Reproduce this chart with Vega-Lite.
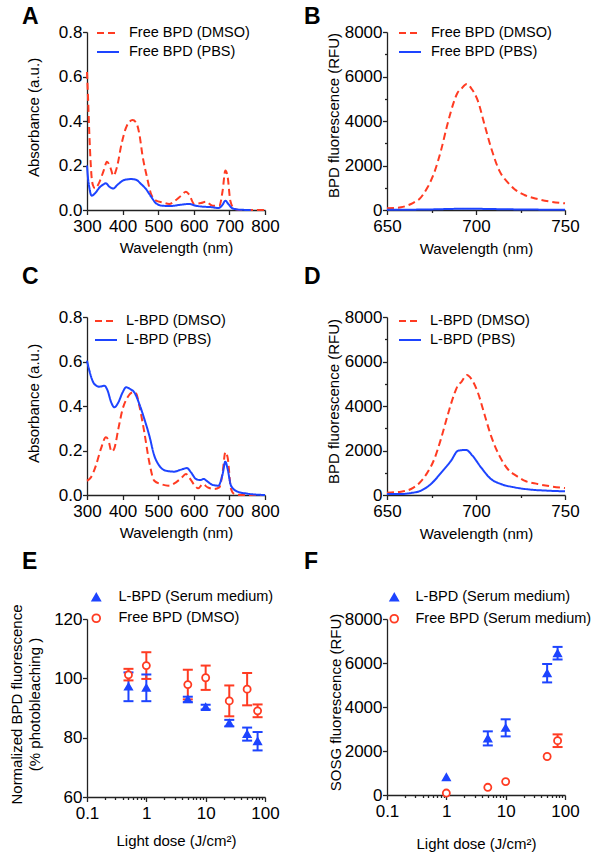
{
"$schema": "https://vega.github.io/schema/vega-lite/v6.json",
"background": "white",
"padding": {"left": 8, "top": 6, "right": 5, "bottom": 5},
"columns": 2,
"align": "each",
"bounds": "full",
"spacing": {"row": 10, "column": 24},
"resolve": {"scale": {"color": "independent", "strokeDash": "independent", "shape": "independent", "stroke": "independent", "fill": "independent"}, "legend": {"color": "independent", "strokeDash": "independent", "shape": "independent", "stroke": "independent", "fill": "independent"}},
"datasets": {
"A": [
{"w":300,"v":0.62,"s":"Free BPD (DMSO)"},{"w":303,"v":0.5,"s":"Free BPD (DMSO)"},{"w":306.6,"v":0.34,"s":"Free BPD (DMSO)"},{"w":310,"v":0.22,"s":"Free BPD (DMSO)"},{"w":313,"v":0.147,"s":"Free BPD (DMSO)"},{"w":317,"v":0.11,"s":"Free BPD (DMSO)"},{"w":322.5,"v":0.097,"s":"Free BPD (DMSO)"},{"w":328,"v":0.105,"s":"Free BPD (DMSO)"},{"w":334.6,"v":0.124,"s":"Free BPD (DMSO)"},{"w":346.8,"v":0.177,"s":"Free BPD (DMSO)"},{"w":356,"v":0.217,"s":"Free BPD (DMSO)"},{"w":365.5,"v":0.192,"s":"Free BPD (DMSO)"},{"w":374,"v":0.154,"s":"Free BPD (DMSO)"},{"w":384,"v":0.192,"s":"Free BPD (DMSO)"},{"w":397,"v":0.297,"s":"Free BPD (DMSO)"},{"w":412,"v":0.379,"s":"Free BPD (DMSO)"},{"w":428,"v":0.404,"s":"Free BPD (DMSO)"},{"w":437.6,"v":0.394,"s":"Free BPD (DMSO)"},{"w":447,"v":0.342,"s":"Free BPD (DMSO)"},{"w":456,"v":0.244,"s":"Free BPD (DMSO)"},{"w":468.5,"v":0.147,"s":"Free BPD (DMSO)"},{"w":480,"v":0.072,"s":"Free BPD (DMSO)"},{"w":494,"v":0.042,"s":"Free BPD (DMSO)"},{"w":512.5,"v":0.034,"s":"Free BPD (DMSO)"},{"w":531,"v":0.027,"s":"Free BPD (DMSO)"},{"w":550,"v":0.045,"s":"Free BPD (DMSO)"},{"w":564,"v":0.064,"s":"Free BPD (DMSO)"},{"w":578,"v":0.082,"s":"Free BPD (DMSO)"},{"w":587,"v":0.069,"s":"Free BPD (DMSO)"},{"w":601.5,"v":0.027,"s":"Free BPD (DMSO)"},{"w":620,"v":0.031,"s":"Free BPD (DMSO)"},{"w":634,"v":0.037,"s":"Free BPD (DMSO)"},{"w":653,"v":0.019,"s":"Free BPD (DMSO)"},{"w":671.7,"v":0.019,"s":"Free BPD (DMSO)"},{"w":681,"v":0.087,"s":"Free BPD (DMSO)"},{"w":688.6,"v":0.177,"s":"Free BPD (DMSO)"},{"w":695,"v":0.15,"s":"Free BPD (DMSO)"},{"w":702.6,"v":0.042,"s":"Free BPD (DMSO)"},{"w":714,"v":0.005,"s":"Free BPD (DMSO)"},{"w":732.6,"v":0.0,"s":"Free BPD (DMSO)"},{"w":800,"v":0.0,"s":"Free BPD (DMSO)"},
{"w":300,"v":0.2,"s":"Free BPD (PBS)"},{"w":303,"v":0.14,"s":"Free BPD (PBS)"},{"w":306.6,"v":0.1,"s":"Free BPD (PBS)"},{"w":313,"v":0.064,"s":"Free BPD (PBS)"},{"w":322.5,"v":0.075,"s":"Free BPD (PBS)"},{"w":334.6,"v":0.1,"s":"Free BPD (PBS)"},{"w":345,"v":0.114,"s":"Free BPD (PBS)"},{"w":353,"v":0.12,"s":"Free BPD (PBS)"},{"w":362.7,"v":0.105,"s":"Free BPD (PBS)"},{"w":374,"v":0.097,"s":"Free BPD (PBS)"},{"w":386,"v":0.114,"s":"Free BPD (PBS)"},{"w":405,"v":0.135,"s":"Free BPD (PBS)"},{"w":423.6,"v":0.139,"s":"Free BPD (PBS)"},{"w":437.6,"v":0.136,"s":"Free BPD (PBS)"},{"w":451.7,"v":0.117,"s":"Free BPD (PBS)"},{"w":465.7,"v":0.094,"s":"Free BPD (PBS)"},{"w":480,"v":0.06,"s":"Free BPD (PBS)"},{"w":494,"v":0.03,"s":"Free BPD (PBS)"},{"w":512.5,"v":0.019,"s":"Free BPD (PBS)"},{"w":536,"v":0.018,"s":"Free BPD (PBS)"},{"w":564,"v":0.024,"s":"Free BPD (PBS)"},{"w":587,"v":0.027,"s":"Free BPD (PBS)"},{"w":606,"v":0.019,"s":"Free BPD (PBS)"},{"w":625,"v":0.015,"s":"Free BPD (PBS)"},{"w":648,"v":0.013,"s":"Free BPD (PBS)"},{"w":669,"v":0.009,"s":"Free BPD (PBS)"},{"w":681,"v":0.024,"s":"Free BPD (PBS)"},{"w":688.6,"v":0.042,"s":"Free BPD (PBS)"},{"w":697,"v":0.027,"s":"Free BPD (PBS)"},{"w":709,"v":0.007,"s":"Free BPD (PBS)"},{"w":728,"v":0.0015,"s":"Free BPD (PBS)"},{"w":760,"v":0.0,"s":"Free BPD (PBS)"}
],
"B": [
{"w":650,"v":75,"s":"Free BPD (DMSO)"},{"w":654,"v":95,"s":"Free BPD (DMSO)"},{"w":657.9,"v":120,"s":"Free BPD (DMSO)"},{"w":661,"v":190,"s":"Free BPD (DMSO)"},{"w":663.5,"v":270,"s":"Free BPD (DMSO)"},{"w":666,"v":380,"s":"Free BPD (DMSO)"},{"w":668.2,"v":494,"s":"Free BPD (DMSO)"},{"w":670.5,"v":720,"s":"Free BPD (DMSO)"},{"w":672.8,"v":1019,"s":"Free BPD (DMSO)"},{"w":676.6,"v":1693,"s":"Free BPD (DMSO)"},{"w":680.3,"v":2666,"s":"Free BPD (DMSO)"},{"w":684,"v":3865,"s":"Free BPD (DMSO)"},{"w":687.8,"v":4913,"s":"Free BPD (DMSO)"},{"w":689.5,"v":5250,"s":"Free BPD (DMSO)"},{"w":691.6,"v":5438,"s":"Free BPD (DMSO)"},{"w":694.8,"v":5662,"s":"Free BPD (DMSO)"},{"w":697.6,"v":5438,"s":"Free BPD (DMSO)"},{"w":701,"v":4913,"s":"Free BPD (DMSO)"},{"w":704.7,"v":3865,"s":"Free BPD (DMSO)"},{"w":708.4,"v":2816,"s":"Free BPD (DMSO)"},{"w":713.1,"v":1768,"s":"Free BPD (DMSO)"},{"w":717.8,"v":1243,"s":"Free BPD (DMSO)"},{"w":721.5,"v":944,"s":"Free BPD (DMSO)"},{"w":727.2,"v":674,"s":"Free BPD (DMSO)"},{"w":734.6,"v":494,"s":"Free BPD (DMSO)"},{"w":742,"v":375,"s":"Free BPD (DMSO)"},{"w":750,"v":300,"s":"Free BPD (DMSO)"},
{"w":650,"v":10,"s":"Free BPD (PBS)"},{"w":670,"v":20,"s":"Free BPD (PBS)"},{"w":685,"v":45,"s":"Free BPD (PBS)"},{"w":693,"v":60,"s":"Free BPD (PBS)"},{"w":700,"v":55,"s":"Free BPD (PBS)"},{"w":715,"v":35,"s":"Free BPD (PBS)"},{"w":730,"v":20,"s":"Free BPD (PBS)"},{"w":750,"v":12,"s":"Free BPD (PBS)"}
],
"C": [
{"w":300,"v":0.064,"s":"L-BPD (DMSO)"},{"w":311,"v":0.079,"s":"L-BPD (DMSO)"},{"w":325,"v":0.132,"s":"L-BPD (DMSO)"},{"w":339,"v":0.207,"s":"L-BPD (DMSO)"},{"w":353,"v":0.259,"s":"L-BPD (DMSO)"},{"w":360,"v":0.247,"s":"L-BPD (DMSO)"},{"w":369,"v":0.195,"s":"L-BPD (DMSO)"},{"w":376.8,"v":0.21,"s":"L-BPD (DMSO)"},{"w":388,"v":0.297,"s":"L-BPD (DMSO)"},{"w":400,"v":0.386,"s":"L-BPD (DMSO)"},{"w":414,"v":0.439,"s":"L-BPD (DMSO)"},{"w":428,"v":0.461,"s":"L-BPD (DMSO)"},{"w":437.6,"v":0.458,"s":"L-BPD (DMSO)"},{"w":447,"v":0.401,"s":"L-BPD (DMSO)"},{"w":461,"v":0.282,"s":"L-BPD (DMSO)"},{"w":475,"v":0.147,"s":"L-BPD (DMSO)"},{"w":489,"v":0.064,"s":"L-BPD (DMSO)"},{"w":508,"v":0.049,"s":"L-BPD (DMSO)"},{"w":528.5,"v":0.042,"s":"L-BPD (DMSO)"},{"w":550,"v":0.057,"s":"L-BPD (DMSO)"},{"w":564,"v":0.075,"s":"L-BPD (DMSO)"},{"w":578,"v":0.094,"s":"L-BPD (DMSO)"},{"w":587,"v":0.079,"s":"L-BPD (DMSO)"},{"w":601.5,"v":0.045,"s":"L-BPD (DMSO)"},{"w":612.6,"v":0.03,"s":"L-BPD (DMSO)"},{"w":625,"v":0.049,"s":"L-BPD (DMSO)"},{"w":639,"v":0.034,"s":"L-BPD (DMSO)"},{"w":657.7,"v":0.027,"s":"L-BPD (DMSO)"},{"w":671.7,"v":0.034,"s":"L-BPD (DMSO)"},{"w":681,"v":0.102,"s":"L-BPD (DMSO)"},{"w":688.6,"v":0.192,"s":"L-BPD (DMSO)"},{"w":695,"v":0.169,"s":"L-BPD (DMSO)"},{"w":704.5,"v":0.027,"s":"L-BPD (DMSO)"},{"w":714,"v":0.0045,"s":"L-BPD (DMSO)"},{"w":732.6,"v":0.0,"s":"L-BPD (DMSO)"},{"w":800,"v":0.0,"s":"L-BPD (DMSO)"},
{"w":300,"v":0.604,"s":"L-BPD (PBS)"},{"w":306.6,"v":0.559,"s":"L-BPD (PBS)"},{"w":320.6,"v":0.499,"s":"L-BPD (PBS)"},{"w":334.6,"v":0.487,"s":"L-BPD (PBS)"},{"w":348.7,"v":0.491,"s":"L-BPD (PBS)"},{"w":358,"v":0.469,"s":"L-BPD (PBS)"},{"w":367.4,"v":0.419,"s":"L-BPD (PBS)"},{"w":376.8,"v":0.394,"s":"L-BPD (PBS)"},{"w":388,"v":0.416,"s":"L-BPD (PBS)"},{"w":400,"v":0.461,"s":"L-BPD (PBS)"},{"w":409.5,"v":0.484,"s":"L-BPD (PBS)"},{"w":421.7,"v":0.476,"s":"L-BPD (PBS)"},{"w":433,"v":0.461,"s":"L-BPD (PBS)"},{"w":447,"v":0.409,"s":"L-BPD (PBS)"},{"w":461,"v":0.342,"s":"L-BPD (PBS)"},{"w":475,"v":0.267,"s":"L-BPD (PBS)"},{"w":489,"v":0.177,"s":"L-BPD (PBS)"},{"w":503,"v":0.132,"s":"L-BPD (PBS)"},{"w":522,"v":0.109,"s":"L-BPD (PBS)"},{"w":545,"v":0.105,"s":"L-BPD (PBS)"},{"w":564,"v":0.114,"s":"L-BPD (PBS)"},{"w":581,"v":0.121,"s":"L-BPD (PBS)"},{"w":592,"v":0.102,"s":"L-BPD (PBS)"},{"w":606,"v":0.072,"s":"L-BPD (PBS)"},{"w":618,"v":0.067,"s":"L-BPD (PBS)"},{"w":627.7,"v":0.072,"s":"L-BPD (PBS)"},{"w":639,"v":0.06,"s":"L-BPD (PBS)"},{"w":653,"v":0.045,"s":"L-BPD (PBS)"},{"w":669,"v":0.042,"s":"L-BPD (PBS)"},{"w":681,"v":0.094,"s":"L-BPD (PBS)"},{"w":688.6,"v":0.15,"s":"L-BPD (PBS)"},{"w":695,"v":0.117,"s":"L-BPD (PBS)"},{"w":704.5,"v":0.042,"s":"L-BPD (PBS)"},{"w":723,"v":0.015,"s":"L-BPD (PBS)"},{"w":751,"v":0.006,"s":"L-BPD (PBS)"},{"w":800,"v":0.0,"s":"L-BPD (PBS)"}
],
"D": [
{"w":650,"v":105,"s":"L-BPD (DMSO)"},{"w":657.9,"v":150,"s":"L-BPD (DMSO)"},{"w":663.5,"v":270,"s":"L-BPD (DMSO)"},{"w":668.2,"v":540,"s":"L-BPD (DMSO)"},{"w":672.8,"v":1019,"s":"L-BPD (DMSO)"},{"w":676.6,"v":1618,"s":"L-BPD (DMSO)"},{"w":680.3,"v":2516,"s":"L-BPD (DMSO)"},{"w":684,"v":3565,"s":"L-BPD (DMSO)"},{"w":687.8,"v":4539,"s":"L-BPD (DMSO)"},{"w":690,"v":4950,"s":"L-BPD (DMSO)"},{"w":691.6,"v":5063,"s":"L-BPD (DMSO)"},{"w":694.8,"v":5393,"s":"L-BPD (DMSO)"},{"w":698,"v":5138,"s":"L-BPD (DMSO)"},{"w":701,"v":4614,"s":"L-BPD (DMSO)"},{"w":704.7,"v":3640,"s":"L-BPD (DMSO)"},{"w":708.4,"v":2666,"s":"L-BPD (DMSO)"},{"w":713.1,"v":1768,"s":"L-BPD (DMSO)"},{"w":717.8,"v":1168,"s":"L-BPD (DMSO)"},{"w":722.5,"v":869,"s":"L-BPD (DMSO)"},{"w":727.2,"v":644,"s":"L-BPD (DMSO)"},{"w":734.6,"v":494,"s":"L-BPD (DMSO)"},{"w":742,"v":389,"s":"L-BPD (DMSO)"},{"w":750,"v":315,"s":"L-BPD (DMSO)"},
{"w":650,"v":45,"s":"L-BPD (PBS)"},{"w":658,"v":45,"s":"L-BPD (PBS)"},{"w":663.5,"v":90,"s":"L-BPD (PBS)"},{"w":669,"v":195,"s":"L-BPD (PBS)"},{"w":674.7,"v":494,"s":"L-BPD (PBS)"},{"w":680.3,"v":989,"s":"L-BPD (PBS)"},{"w":686,"v":1543,"s":"L-BPD (PBS)"},{"w":690,"v":1993,"s":"L-BPD (PBS)"},{"w":694.4,"v":2023,"s":"L-BPD (PBS)"},{"w":698,"v":1768,"s":"L-BPD (PBS)"},{"w":702.8,"v":1243,"s":"L-BPD (PBS)"},{"w":708.4,"v":719,"s":"L-BPD (PBS)"},{"w":714,"v":494,"s":"L-BPD (PBS)"},{"w":721.5,"v":345,"s":"L-BPD (PBS)"},{"w":731,"v":240,"s":"L-BPD (PBS)"},{"w":740,"v":195,"s":"L-BPD (PBS)"},{"w":750,"v":165,"s":"L-BPD (PBS)"}
],
"E": [
{"x":0.5,"m":97.2,"lo":92.3,"hi":102.0,"s":"L-BPD (Serum medium)"},
{"x":1,"m":96.8,"lo":92.3,"hi":101.3,"s":"L-BPD (Serum medium)"},
{"x":5,"m":92.9,"lo":92.0,"hi":93.8,"s":"L-BPD (Serum medium)"},
{"x":10,"m":90.3,"lo":89.5,"hi":91.1,"s":"L-BPD (Serum medium)"},
{"x":25,"m":84.9,"lo":83.8,"hi":86.0,"s":"L-BPD (Serum medium)"},
{"x":50,"m":81.2,"lo":79.0,"hi":83.4,"s":"L-BPD (Serum medium)"},
{"x":75,"m":78.8,"lo":75.7,"hi":81.9,"s":"L-BPD (Serum medium)"},
{"x":0.5,"m":101.2,"lo":99.3,"hi":103.2,"s":"Free BPD (DMSO)"},
{"x":1,"m":104.3,"lo":99.8,"hi":108.8,"s":"Free BPD (DMSO)"},
{"x":5,"m":97.9,"lo":92.9,"hi":102.9,"s":"Free BPD (DMSO)"},
{"x":10,"m":100.2,"lo":96.1,"hi":104.3,"s":"Free BPD (DMSO)"},
{"x":25,"m":92.4,"lo":87.2,"hi":97.6,"s":"Free BPD (DMSO)"},
{"x":50,"m":96.35,"lo":90.9,"hi":101.8,"s":"Free BPD (DMSO)"},
{"x":75,"m":89.05,"lo":86.9,"hi":91.2,"s":"Free BPD (DMSO)"}
],
"F": [
{"x":1,"m":810,"lo":null,"hi":null,"s":"L-BPD (Serum medium)"},
{"x":5,"m":2570,"lo":2253,"hi":2893,"s":"L-BPD (Serum medium)"},
{"x":10,"m":3050,"lo":2664,"hi":3441,"s":"L-BPD (Serum medium)"},
{"x":50,"m":5536,"lo":5118,"hi":5955,"s":"L-BPD (Serum medium)"},
{"x":75,"m":6444,"lo":6160,"hi":6732,"s":"L-BPD (Serum medium)"},
{"x":1,"m":90,"lo":null,"hi":null,"s":"Free BPD (Serum medium)"},
{"x":5,"m":350,"lo":null,"hi":null,"s":"Free BPD (Serum medium)"},
{"x":10,"m":610,"lo":null,"hi":null,"s":"Free BPD (Serum medium)"},
{"x":50,"m":1750,"lo":null,"hi":null,"s":"Free BPD (Serum medium)"},
{"x":75,"m":2470,"lo":2180,"hi":2756,"s":"Free BPD (Serum medium)"}
]
},
"concat": [
{
"title": {"text": "A", "dx": -65, "offset": -8},
"width": 178, "height": 178,
"data": {"name": "A"},
"mark": {"type": "line", "strokeWidth": 2, "interpolate": "monotone"},
"encoding": {
"x": {"field": "w", "type": "quantitative", "scale": {"domain": [300, 800], "nice": false, "zero": false}, "axis": {"values": [300,400,500,600,700,800], "format": "d", "title": "Wavelength (nm)", "titleY": 37}},
"y": {"field": "v", "type": "quantitative", "scale": {"domain": [0, 0.8], "nice": false}, "axis": {"values": [0,0.2,0.4,0.6,0.8], "format": ".1f", "title": "Absorbance (a.u.)", "titleX": -54, "titleY": 85}},
"color": {"field": "s", "type": "nominal", "scale": {"domain": ["Free BPD (DMSO)", "Free BPD (PBS)"], "range": ["#ff3b22", "#1d44ff"]}, "legend": {"title": null, "orient": "none", "legendX": 9, "legendY": -11, "symbolType": "stroke", "symbolSize": 484, "symbolStrokeWidth": 2, "labelOffset": 9, "rowPadding": -2}},
"strokeDash": {"field": "s", "type": "nominal", "scale": {"domain": ["Free BPD (DMSO)", "Free BPD (PBS)"], "range": [[7,4],[1,0]]}, "legend": {"title": null, "orient": "none", "legendX": 9, "legendY": -11, "symbolType": "stroke", "symbolSize": 484, "symbolStrokeWidth": 2, "labelOffset": 9, "rowPadding": -2}}
}
},
{
"title": {"text": "B", "dx": -83, "offset": -8},
"width": 178, "height": 178,
"data": {"name": "B"},
"mark": {"type": "line", "strokeWidth": 2, "interpolate": "monotone"},
"encoding": {
"x": {"field": "w", "type": "quantitative", "scale": {"domain": [650, 750], "nice": false, "zero": false}, "axis": {"values": [650,675,700,725,750], "format": "d", "labelExpr": "datum.value % 50 == 0 ? datum.label : ''", "tickSize": {"condition": {"test": "datum.value % 50 == 0", "value": 4.5}, "value": 2.5}, "title": "Wavelength (nm)", "titleY": 38}},
"y": {"field": "v", "type": "quantitative", "scale": {"domain": [0, 8000], "nice": false}, "axis": {"values": [0,1000,2000,3000,4000,5000,6000,7000,8000], "format": "d", "labelExpr": "datum.value % 2000 == 0 ? datum.label : ''", "tickSize": {"condition": {"test": "datum.value % 2000 == 0", "value": 4.5}, "value": 2.5}, "title": "BPD fluorescence (RFU)", "titleX": -54, "titleY": 83}},
"color": {"field": "s", "type": "nominal", "scale": {"domain": ["Free BPD (DMSO)", "Free BPD (PBS)"], "range": ["#ff3b22", "#1d44ff"]}, "legend": {"title": null, "orient": "none", "legendX": 11, "legendY": -11, "symbolType": "stroke", "symbolSize": 484, "symbolStrokeWidth": 2, "labelOffset": 9, "rowPadding": -2}},
"strokeDash": {"field": "s", "type": "nominal", "scale": {"domain": ["Free BPD (DMSO)", "Free BPD (PBS)"], "range": [[7,4],[1,0]]}, "legend": {"title": null, "orient": "none", "legendX": 11, "legendY": -11, "symbolType": "stroke", "symbolSize": 484, "symbolStrokeWidth": 2, "labelOffset": 9, "rowPadding": -2}}
}
},
{
"title": {"text": "C", "dx": -65, "offset": 19},
"width": 178, "height": 178,
"data": {"name": "C"},
"mark": {"type": "line", "strokeWidth": 2, "interpolate": "monotone"},
"encoding": {
"x": {"field": "w", "type": "quantitative", "scale": {"domain": [300, 800], "nice": false, "zero": false}, "axis": {"values": [300,400,500,600,700,800], "format": "d", "title": "Wavelength (nm)", "titleY": 37}},
"y": {"field": "v", "type": "quantitative", "scale": {"domain": [0, 0.8], "nice": false}, "axis": {"values": [0,0.2,0.4,0.6,0.8], "format": ".1f", "title": "Absorbance (a.u.)", "titleX": -54, "titleY": 86}},
"color": {"field": "s", "type": "nominal", "scale": {"domain": ["L-BPD (DMSO)", "L-BPD (PBS)"], "range": ["#ff3b22", "#1d44ff"]}, "legend": {"title": null, "orient": "none", "legendX": 7, "legendY": -8, "symbolType": "stroke", "symbolSize": 484, "symbolStrokeWidth": 2, "labelOffset": 8, "rowPadding": -2}},
"strokeDash": {"field": "s", "type": "nominal", "scale": {"domain": ["L-BPD (DMSO)", "L-BPD (PBS)"], "range": [[7,4],[1,0]]}, "legend": {"title": null, "orient": "none", "legendX": 7, "legendY": -8, "symbolType": "stroke", "symbolSize": 484, "symbolStrokeWidth": 2, "labelOffset": 8, "rowPadding": -2}}
}
},
{
"title": {"text": "D", "dx": -83, "offset": 19},
"width": 178, "height": 178,
"data": {"name": "D"},
"mark": {"type": "line", "strokeWidth": 2, "interpolate": "monotone"},
"encoding": {
"x": {"field": "w", "type": "quantitative", "scale": {"domain": [650, 750], "nice": false, "zero": false}, "axis": {"values": [650,675,700,725,750], "format": "d", "labelExpr": "datum.value % 50 == 0 ? datum.label : ''", "tickSize": {"condition": {"test": "datum.value % 50 == 0", "value": 4.5}, "value": 2.5}, "title": "Wavelength (nm)", "titleY": 38}},
"y": {"field": "v", "type": "quantitative", "scale": {"domain": [0, 8000], "nice": false}, "axis": {"values": [0,1000,2000,3000,4000,5000,6000,7000,8000], "format": "d", "labelExpr": "datum.value % 2000 == 0 ? datum.label : ''", "tickSize": {"condition": {"test": "datum.value % 2000 == 0", "value": 4.5}, "value": 2.5}, "title": "BPD fluorescence (RFU)", "titleX": -54, "titleY": 84}},
"color": {"field": "s", "type": "nominal", "scale": {"domain": ["L-BPD (DMSO)", "L-BPD (PBS)"], "range": ["#ff3b22", "#1d44ff"]}, "legend": {"title": null, "orient": "none", "legendX": 11, "legendY": -8, "symbolType": "stroke", "symbolSize": 484, "symbolStrokeWidth": 2, "labelOffset": 8, "rowPadding": -2}},
"strokeDash": {"field": "s", "type": "nominal", "scale": {"domain": ["L-BPD (DMSO)", "L-BPD (PBS)"], "range": [[7,4],[1,0]]}, "legend": {"title": null, "orient": "none", "legendX": 11, "legendY": -8, "symbolType": "stroke", "symbolSize": 484, "symbolStrokeWidth": 2, "labelOffset": 8, "rowPadding": -2}}
}
},
{
"title": {"text": "E", "dx": -65, "offset": 16},
"width": 178, "height": 178,
"data": {"name": "E"},
"encoding": {
"x": {"field": "x", "type": "quantitative", "scale": {"type": "log", "domain": [0.1, 100], "nice": false}, "axis": {"values": [0.1,0.2,0.3,0.4,0.5,0.6,0.7,0.8,0.9,1,2,3,4,5,6,7,8,9,10,20,30,40,50,60,70,80,90,100], "format": "~g", "labelExpr": "indexof([0.1,1,10,100], datum.value) >= 0 ? datum.label : ''", "tickSize": {"condition": {"test": "indexof([0.1,1,10,100], datum.value) >= 0", "value": 4.5}, "value": 2.5}, "title": "Light dose (J/cm²)", "titleY": 43}},
"y": {"field": "m", "type": "quantitative", "scale": {"domain": [60, 120], "nice": false, "zero": false}, "axis": {"values": [60,80,100,120], "format": "d", "title": ["Normalized BPD fluorescence", "(% photobleaching )"], "titleX": -71, "titleY": 85, "titleLineHeight": 18}},
"color": {"field": "s", "type": "nominal", "scale": {"domain": ["L-BPD (Serum medium)", "Free BPD (DMSO)"], "range": ["#1d44ff", "#ff3b22"]}, "legend": {"title": null, "orient": "none", "legendX": 2, "legendY": -29, "symbolSize": 60, "symbolStrokeWidth": 1.8, "labelOffset": 15, "rowPadding": 5, "labelLimit": 300}}
},
"layer": [
{"transform": [{"filter": "datum.lo != null"}], "mark": {"type": "rule", "strokeWidth": 2},
 "encoding": {"y": {"field": "lo", "type": "quantitative"}, "y2": {"field": "hi"}}},
{"transform": [{"filter": "datum.lo != null"}], "mark": {"type": "point", "shape": "stroke", "size": 100, "strokeWidth": 2, "opacity": 1, "filled": false},
 "encoding": {"y": {"field": "lo", "type": "quantitative"}}},
{"transform": [{"filter": "datum.lo != null"}], "mark": {"type": "point", "shape": "stroke", "size": 100, "strokeWidth": 2, "opacity": 1, "filled": false},
 "encoding": {"y": {"field": "hi", "type": "quantitative"}}},
{"mark": {"type": "point", "size": 50, "strokeWidth": 1.8, "opacity": 1, "filled": false},
 "encoding": {
 "shape": {"field": "s", "type": "nominal", "scale": {"domain": ["L-BPD (Serum medium)", "Free BPD (DMSO)"], "range": ["triangle-up", "circle"]}, "legend": {"title": null, "orient": "none", "legendX": 2, "legendY": -29, "symbolSize": 60, "symbolStrokeWidth": 1.8, "labelOffset": 15, "rowPadding": 5, "labelLimit": 300}},
 "fill": {"field": "s", "type": "nominal", "scale": {"domain": ["L-BPD (Serum medium)", "Free BPD (DMSO)"], "range": ["#1d44ff", "#ffffff"]}, "legend": {"title": null, "orient": "none", "legendX": 2, "legendY": -29, "symbolSize": 60, "symbolStrokeWidth": 1.8, "labelOffset": 15, "rowPadding": 5, "labelLimit": 300}}}}
]
},
{
"title": {"text": "F", "dx": -83, "offset": 16},
"width": 178, "height": 176,
"data": {"name": "F"},
"encoding": {
"x": {"field": "x", "type": "quantitative", "scale": {"type": "log", "domain": [0.1, 100], "nice": false}, "axis": {"values": [0.1,0.2,0.3,0.4,0.5,0.6,0.7,0.8,0.9,1,2,3,4,5,6,7,8,9,10,20,30,40,50,60,70,80,90,100], "format": "~g", "labelExpr": "indexof([0.1,1,10,100], datum.value) >= 0 ? datum.label : ''", "tickSize": {"condition": {"test": "indexof([0.1,1,10,100], datum.value) >= 0", "value": 4.5}, "value": 2.5}, "title": "Light dose (J/cm²)", "titleY": 48}},
"y": {"field": "m", "type": "quantitative", "scale": {"domain": [0, 8000], "nice": false}, "axis": {"values": [0,2000,4000,6000,8000], "format": "d", "title": "SOSG fluorescence (RFU)", "titleX": -52, "titleY": 83}},
"color": {"field": "s", "type": "nominal", "scale": {"domain": ["L-BPD (Serum medium)", "Free BPD (Serum medium)"], "range": ["#1d44ff", "#ff3b22"]}, "legend": {"title": null, "orient": "none", "legendX": 0, "legendY": -29, "symbolSize": 60, "symbolStrokeWidth": 1.8, "labelOffset": 14, "rowPadding": 5.5, "labelLimit": 300}}
},
"layer": [
{"transform": [{"filter": "datum.lo != null"}], "mark": {"type": "rule", "strokeWidth": 2},
 "encoding": {"y": {"field": "lo", "type": "quantitative"}, "y2": {"field": "hi"}}},
{"transform": [{"filter": "datum.lo != null"}], "mark": {"type": "point", "shape": "stroke", "size": 100, "strokeWidth": 2, "opacity": 1, "filled": false},
 "encoding": {"y": {"field": "lo", "type": "quantitative"}}},
{"transform": [{"filter": "datum.lo != null"}], "mark": {"type": "point", "shape": "stroke", "size": 100, "strokeWidth": 2, "opacity": 1, "filled": false},
 "encoding": {"y": {"field": "hi", "type": "quantitative"}}},
{"mark": {"type": "point", "size": 50, "strokeWidth": 1.8, "opacity": 1, "filled": false},
 "encoding": {
 "shape": {"field": "s", "type": "nominal", "scale": {"domain": ["L-BPD (Serum medium)", "Free BPD (Serum medium)"], "range": ["triangle-up", "circle"]}, "legend": {"title": null, "orient": "none", "legendX": 0, "legendY": -29, "symbolSize": 60, "symbolStrokeWidth": 1.8, "labelOffset": 14, "rowPadding": 5.5, "labelLimit": 300}},
 "fill": {"field": "s", "type": "nominal", "scale": {"domain": ["L-BPD (Serum medium)", "Free BPD (Serum medium)"], "range": ["#1d44ff", "#ffffff"]}, "legend": {"title": null, "orient": "none", "legendX": 0, "legendY": -29, "symbolSize": 60, "symbolStrokeWidth": 1.8, "labelOffset": 14, "rowPadding": 5.5, "labelLimit": 300}}}}
]
}
],
"config": {
"font": "Liberation Sans",
"view": {"stroke": null},
"axis": {"grid": false, "domainColor": "#222222", "domainWidth": 1.3, "tickColor": "#222222", "tickWidth": 1.3, "tickSize": 4.5, "labelFont": "Liberation Sans", "labelFontSize": 17, "labelColor": "#000000", "titleFont": "Liberation Sans", "titleFontSize": 15, "titleFontWeight": "normal", "titleColor": "#000000", "labelFlush": false, "labelOverlap": false, "titleBaseline": "middle", "titlePadding": 0},
"axisX": {"labelPadding": 3.5},
"axisY": {"labelPadding": 0.5},
"legend": {"labelFont": "Liberation Sans", "labelFontSize": 14.5, "labelColor": "#000000", "padding": 0},
"title": {"font": "Liberation Sans", "fontSize": 23, "fontWeight": "bold", "color": "#000000", "anchor": "start", "frame": "group"}
}
}
